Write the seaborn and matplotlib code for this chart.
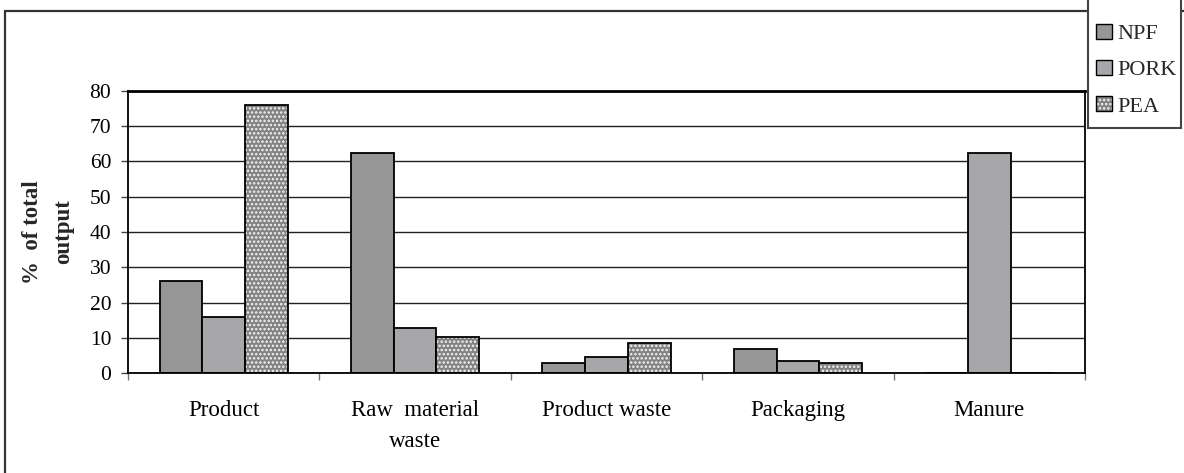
import matplotlib
matplotlib.use("Agg")
import matplotlib.pyplot as plt
from matplotlib.patches import Patch, Rectangle
import seaborn as sns
import pandas as pd

categories = ["Product", "Raw  material\nwaste", "Product waste", "Packaging", "Manure"]
series = ["NPF", "PORK", "PEA"]
npf = [26.0, 62.5, 3.0, 7.0, 0.0]
pork = [16.0, 12.9, 4.5, 3.5, 62.5]
pea = [76.0, 10.4, 8.5, 2.9, 0.0]
yticks = [0, 10, 20, 30, 40, 50, 60, 70, 80]
ylabel = "%  of total\noutput"

df = pd.DataFrame({
    "category": categories * 3,
    "series": [s for s in series for _ in categories],
    "value": npf + pork + pea,
})

sns.set_theme(style="white")
plt.rcParams["font.family"] = ["Liberation Serif", "DejaVu Serif"]
plt.rcParams["hatch.linewidth"] = 1.2

W, H = 1184, 473
fig = plt.figure(figsize=(W / 100, H / 100), dpi=100)
ax = fig.add_axes([128 / W, 1 - 373.3 / H, (1085 - 128) / W, (373.3 - 90.7) / H])

face = {"NPF": "#969696", "PORK": "#a7a7aa", "PEA": "#828282"}
DOTS = "...."
sns.barplot(data=df, x="category", y="value", hue="series", order=categories,
            hue_order=series, palette=face, width=0.67, gap=0, saturation=1,
            ax=ax, legend=False, edgecolor="black", linewidth=1.3)

# Dotted fill for the PEA bars: white dots on grey, outlined in black on top
for bar in ax.containers[2]:
    bar.set_edgecolor("#f4f4f4")
    bar.set_linewidth(0)
    bar.set_hatch(DOTS)
    ax.add_patch(Rectangle(bar.get_xy(), bar.get_width(), bar.get_height(),
                           fill=False, edgecolor="black", linewidth=1.3,
                           zorder=bar.get_zorder() + 0.1))

ax.set_xlim(-0.5, len(categories) - 0.5)
ax.set_ylim(0, 80)
ax.set_yticks(yticks)
ax.set_yticklabels([str(v) for v in yticks])
ax.yaxis.grid(True, color="#222222", linewidth=1.0)
ax.set_axisbelow(True)
for s in ["left", "bottom", "right"]:
    ax.spines[s].set_visible(True)
    ax.spines[s].set_color("black")
    ax.spines[s].set_linewidth(1.3)
ax.spines["top"].set_visible(True)
ax.spines["top"].set_color("black")
ax.spines["top"].set_linewidth(2.0)

ax.tick_params(axis="y", which="major", direction="out", length=5, width=1.0,
               color="#444444", pad=7, labelsize=15.5, labelcolor="black", left=True)
ax.set_xticks(range(len(categories)))
ax.set_xticklabels(categories, fontsize=16.5, color="black", linespacing=1.65)
ax.set_xticks([i - 0.5 for i in range(len(categories) + 1)], minor=True)
ax.tick_params(axis="x", which="major", length=0, pad=19)
ax.tick_params(axis="x", which="minor", direction="out", length=5, width=1.0,
               color="#777777", bottom=True)
ax.set_xlabel("")
ax.set_ylabel(ylabel, fontsize=16.5, fontweight="bold", linespacing=1.65)
ax.yaxis.set_label_coords(-0.056, 0.5)

# Outer chart border
fig.patches.append(Rectangle((5 / W, -0.05), 1.1, 1 - 11 / H + 0.05,
                             transform=fig.transFigure, fill=False,
                             edgecolor="#333333", linewidth=1.6, zorder=1))
# Legend box
fig.patches.append(Rectangle((1088 / W, 1 - 128 / H), (1181 - 1088) / W, 128 / H + 0.05,
                             transform=fig.transFigure, facecolor="white",
                             edgecolor="#444444", linewidth=1.5, zorder=2))

handles = [
    Patch(facecolor=face["NPF"], edgecolor="black", linewidth=1.0),
    Patch(facecolor=face["PORK"], edgecolor="black", linewidth=1.0),
    (Patch(facecolor=face["PEA"], edgecolor="#f4f4f4", hatch=DOTS, linewidth=0),
     Patch(fill=False, edgecolor="black", linewidth=1.0)),
]
leg = fig.legend(handles, series, loc="upper left",
                 bbox_to_anchor=(1096 / W, 1 - 24 / H), bbox_transform=fig.transFigure,
                 fontsize=16, frameon=False,
                 handlelength=0.7, handleheight=0.65, handletextpad=0.25,
                 labelspacing=0.72, borderpad=0, borderaxespad=0)
leg.set_zorder(5)

fig.savefig("out.png", dpi=100)
